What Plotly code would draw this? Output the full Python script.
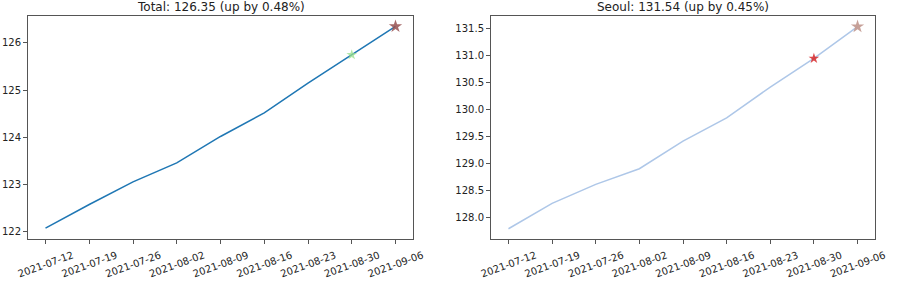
import plotly.graph_objects as go

dates = ["2021-07-12", "2021-07-19", "2021-07-26", "2021-08-02", "2021-08-09",
         "2021-08-16", "2021-08-23", "2021-08-30", "2021-09-06"]
total = [122.08, 122.58, 123.06, 123.46, 124.02, 124.52, 125.15, 125.75, 126.35]
seoul = [127.80, 128.27, 128.62, 128.91, 129.42, 129.85, 130.42, 130.95, 131.54]

total_title = "Total: 126.35 (up by 0.48%)"
seoul_title = "Seoul: 131.54 (up by 0.45%)"

W, H = 897, 285
font = dict(family="DejaVu Sans", size=10, color="#222")

fig = go.Figure()
# Left panel
fig.add_trace(go.Scatter(x=dates, y=total, mode="lines", line=dict(color="#1f77b4", width=1.5),
                         xaxis="x", yaxis="y", showlegend=False))
fig.add_trace(go.Scatter(x=[dates[-2]], y=[total[-2]], mode="markers",
                         marker=dict(symbol="star", size=8, color="rgba(152,223,138,0.75)", line=dict(width=0)),
                         xaxis="x", yaxis="y", showlegend=False))
fig.add_trace(go.Scatter(x=[dates[-1]], y=[total[-1]], mode="markers",
                         marker=dict(symbol="star", size=10, color="rgba(150,80,80,0.85)", line=dict(width=0)),
                         xaxis="x", yaxis="y", showlegend=False))
# Right panel
fig.add_trace(go.Scatter(x=dates, y=seoul, mode="lines", line=dict(color="#aec7e8", width=1.5),
                         xaxis="x2", yaxis="y2", showlegend=False))
fig.add_trace(go.Scatter(x=[dates[-2]], y=[seoul[-2]], mode="markers",
                         marker=dict(symbol="star", size=8, color="rgba(214,39,40,0.85)", line=dict(width=0)),
                         xaxis="x2", yaxis="y2", showlegend=False))
fig.add_trace(go.Scatter(x=[dates[-1]], y=[seoul[-1]], mode="markers",
                         marker=dict(symbol="star", size=10, color="rgba(196,156,148,0.95)", line=dict(width=0)),
                         xaxis="x2", yaxis="y2", showlegend=False))

ydom = [1 - 239 / H, 1 - 16 / H]
xrange_ = ["2021-07-09 04:48", "2021-09-08 19:12"]
axis_common = dict(showline=True, linecolor="#555", linewidth=1, mirror=True, ticks="outside",
                   ticklen=4, tickcolor="#555", showgrid=False, zeroline=False, tickfont=font,
                   automargin=False)
xaxis_extra = dict(tickangle=-20, ticklabelshift=27, ticklabelstandoff=2)

fig.update_layout(
    width=W, height=H, margin=dict(l=0, r=0, t=0, b=0),
    paper_bgcolor="white", plot_bgcolor="white", font=font,
    xaxis=dict(domain=[28 / W, 413 / W], range=xrange_, tickvals=dates, ticktext=dates,
               anchor="y", **xaxis_extra, **axis_common),
    yaxis=dict(domain=ydom, range=[121.85, 126.57], tickvals=[122, 123, 124, 125, 126],
               anchor="x", **axis_common),
    xaxis2=dict(domain=[491 / W, 875 / W], range=xrange_, tickvals=dates, ticktext=dates,
                anchor="y2", **xaxis_extra, **axis_common),
    yaxis2=dict(domain=ydom, range=[127.61, 131.735],
                tickvals=[128.0, 128.5, 129.0, 129.5, 130.0, 130.5, 131.0, 131.5],
                tickformat=".1f", anchor="x2", **axis_common),
    annotations=[
        dict(text=total_title, x=(28 + 413) / 2 / W, y=ydom[1], xref="paper", yref="paper",
             xanchor="center", yanchor="bottom", yshift=0, showarrow=False,
             font=dict(family="DejaVu Sans", size=12, color="#222")),
        dict(text=seoul_title, x=(491 + 875) / 2 / W, y=ydom[1], xref="paper", yref="paper",
             xanchor="center", yanchor="bottom", yshift=0, showarrow=False,
             font=dict(family="DejaVu Sans", size=12, color="#222")),
    ],
)

fig.write_html("out.html")
